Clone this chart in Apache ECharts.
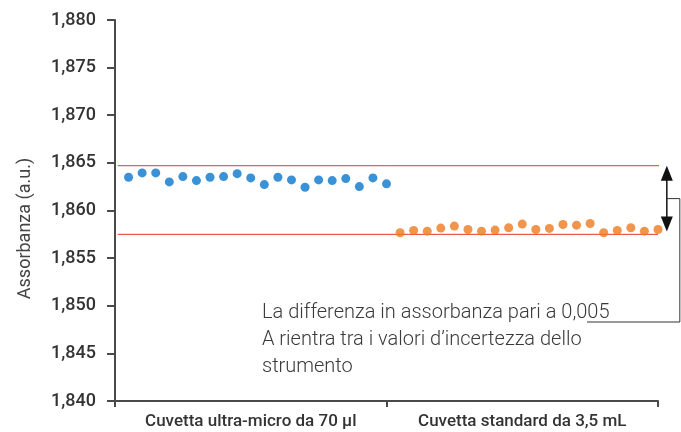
<!DOCTYPE html>
<html>
<head>
<meta charset="utf-8">
<script src="https://cdn.jsdelivr.net/npm/echarts@6/dist/echarts.min.js"></script>
<style>
  html, body { margin: 0; padding: 0; background: #fff; }
  #chart { width: 681px; height: 432px; }
</style>
</head>
<body>
<div id="chart"></div>
<script>
// Category labels on the x axis
const categories = ['Cuvetta ultra-micro da 70 µl', 'Cuvetta standard da 3,5 mL'];

// Repeated absorbance readings (a.u.)
const ultraMicro = [1.86349, 1.86395, 1.86395, 1.86300, 1.86356, 1.86314, 1.86349, 1.86356, 1.86387, 1.86342,
                    1.86272, 1.86349, 1.86321, 1.86244, 1.86321, 1.86314, 1.86335, 1.86251, 1.86342, 1.86280];
const standard = [1.85766, 1.85791, 1.85783, 1.85815, 1.85836, 1.85801, 1.85783, 1.85794, 1.85819, 1.85857,
                  1.85801, 1.85812, 1.85853, 1.85846, 1.85864, 1.85766, 1.85791, 1.85819, 1.85783, 1.85801];

// Reference levels bounding the two groups
const upperLevel = 1.8647;
const lowerLevel = 1.8575;

// Y axis range and step
const yMin = 1.840, yMax = 1.880, yStep = 0.005;

const noteLines = [
  'La differenza in assorbanza pari a 0,005',
  'A rientra tra i valori d\u2019incertezza dello',
  'strumento'
];

const nTotal = ultraMicro.length + standard.length;
const blueData = ultraMicro.map((v, i) => [i + 1, v]);
const orangeData = standard.map((v, i) => [ultraMicro.length + i + 1, v]);

const chart = echarts.init(document.getElementById('chart'), null, { renderer: 'canvas' });

const axisColor = '#4a4a4a';
const option = {
  backgroundColor: '#fff',
  animation: false,
  grid: { left: 115, right: 23, top: 20, bottom: 31 },
  xAxis: [
    {
      type: 'category',
      data: categories,
      boundaryGap: true,
      axisLine: { lineStyle: { color: axisColor, width: 2 } },
      axisTick: { show: true, interval: 0, length: 6, lineStyle: { color: axisColor, width: 2 } },
      axisLabel: { interval: 0, color: '#333', fontSize: 17, fontFamily: 'Roboto', fontWeight: 500, margin: 12 },
      splitLine: { show: false }
    },
    {
      type: 'value',
      min: 0,
      max: nTotal,
      show: false
    }
  ],
  yAxis: {
    type: 'value',
    min: yMin,
    max: yMax,
    interval: yStep,
    name: 'Assorbanza (a.u.)',
    nameLocation: 'middle',
    nameGap: 81,
    nameTextStyle: { color: '#444', fontSize: 18, fontFamily: 'Roboto', padding: [0, 36, 0, 0] },
    axisLine: { show: true, lineStyle: { color: axisColor, width: 2 } },
    axisTick: { show: true, length: 8, lineStyle: { color: axisColor, width: 2 } },
    axisLabel: {
      color: '#333', fontSize: 18, fontFamily: 'Roboto', fontWeight: 500, margin: 19,
      formatter: v => v.toFixed(3).replace('.', ',')
    },
    splitLine: { show: false }
  },
  series: [
    {
      type: 'line', xAxisIndex: 1, data: [[0.2, upperLevel], [40.3, upperLevel]],
      symbol: 'none', clip: false, lineStyle: { color: '#e8322c', width: 1 }, z: 1
    },
    {
      type: 'line', xAxisIndex: 1, data: [[0.2, lowerLevel], [40.0, lowerLevel]],
      symbol: 'none', clip: false, lineStyle: { color: '#e8322c', width: 1 }, z: 1
    },
    {
      type: 'scatter', xAxisIndex: 1, data: blueData, symbolSize: 9,
      itemStyle: { color: '#0a76cc' }, z: 3
    },
    {
      type: 'scatter', xAxisIndex: 1, data: orangeData, symbolSize: 9,
      itemStyle: { color: '#ec7a1e' }, z: 3
    }
  ]
};
chart.setOption(option);

// Double-headed arrow between the two levels, with a bracket leading to the note
function drawAnnotation() {
  const toPx = (x, y) => chart.convertToPixel({ xAxisIndex: 1, yAxisIndex: 0 }, [x, y]);
  const top = toPx(40.65, upperLevel);
  const bot = toPx(40.65, lowerLevel + 0.0003);
  const ax = top[0];
  const ty = top[1], by = bot[1];
  const midY = (ty + by) / 2;
  const head = 15, hw = 6;
  const bracketX = ax + 13;
  const noteLeft = 262, noteTop = 299, lineH = 27;
  const underlineY = 322;
  const graphics = [
    { type: 'line', shape: { x1: ax, y1: ty + head - 2, x2: ax, y2: by - head + 2 }, style: { stroke: '#111', lineWidth: 1.5 } },
    { type: 'polygon', shape: { points: [[ax, ty], [ax - hw, ty + head], [ax + hw, ty + head]] }, style: { fill: '#111' } },
    { type: 'polygon', shape: { points: [[ax, by], [ax - hw, by - head], [ax + hw, by - head]] }, style: { fill: '#111' } },
    { type: 'polyline', shape: { points: [[ax, midY], [bracketX, midY], [bracketX, underlineY], [587, underlineY]] },
      style: { stroke: '#333', lineWidth: 1, fill: null } },
    { type: 'text', left: noteLeft, top: noteTop,
      style: { text: noteLines.join('\n'), fill: '#3a3a3a', font: '300 20px Roboto', lineHeight: lineH } }
  ];
  chart.setOption({ graphic: graphics });
}
drawAnnotation();
</script>
</body>
</html>
